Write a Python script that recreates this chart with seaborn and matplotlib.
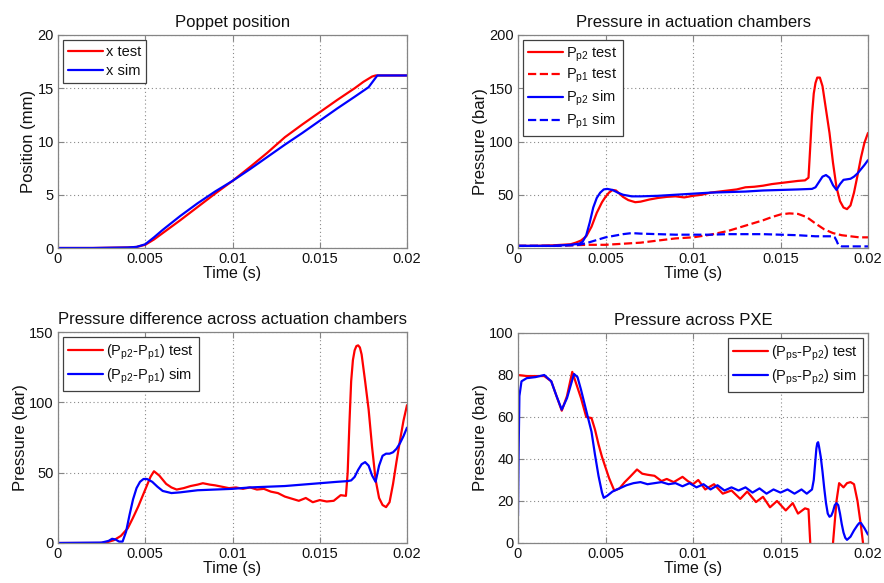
import matplotlib
matplotlib.use("Agg")
import matplotlib.pyplot as plt
import seaborn as sns

# ---------------- data ----------------
time_ticks = [0, 0.005, 0.01, 0.015, 0.02]
time_tick_labels = ["0", "0.005", "0.01", "0.015", "0.02"]

# Poppet position (mm)
t_x_test = [0, 0.002, 0.004, 0.0045, 0.005, 0.0055, 0.006, 0.007, 0.008, 0.009, 0.010,
            0.011, 0.012, 0.013, 0.014, 0.015, 0.016, 0.017, 0.0175, 0.018, 0.0182, 0.019, 0.02]
x_test = [0, 0, 0.05, 0.1, 0.3, 0.8, 1.4, 2.6, 3.85, 5.1, 6.3,
          7.6, 8.95, 10.4, 11.6, 12.75, 13.9, 15.0, 15.6, 16.1, 16.2, 16.2, 16.2]
t_x_sim = [0, 0.002, 0.004, 0.0045, 0.005, 0.0055, 0.006, 0.007, 0.008, 0.009, 0.010,
           0.011, 0.012, 0.013, 0.014, 0.015, 0.016, 0.017, 0.0178, 0.0183, 0.019, 0.02]
x_sim = [0, 0, 0.05, 0.1, 0.35, 1.0, 1.7, 3.0, 4.2, 5.3, 6.3,
         7.4, 8.55, 9.7, 10.8, 11.95, 13.1, 14.2, 15.1, 16.2, 16.2, 16.2]

# Pressure in actuation chambers (bar)
t_pp2_test = [0, 0.001, 0.002, 0.003, 0.0033, 0.0036, 0.0039, 0.0042, 0.0045, 0.0048, 0.005,
              0.0052, 0.0054, 0.0056, 0.0058, 0.006, 0.0063, 0.0067, 0.007, 0.0075, 0.008,
              0.0085, 0.009, 0.0095, 0.01, 0.0105, 0.011, 0.0115, 0.012, 0.0125, 0.013,
              0.0135, 0.014, 0.0145, 0.015, 0.0155, 0.016, 0.0164, 0.0166, 0.0167, 0.0168,
              0.0169, 0.017, 0.0171, 0.01725, 0.0174, 0.0176, 0.0178, 0.018, 0.0182, 0.0184,
              0.0186, 0.0188, 0.019, 0.0192, 0.0194, 0.0196, 0.0198, 0.02]
pp2_test = [2, 2, 2.5, 3.5, 5, 7, 11, 20, 33, 43, 48,
            52, 54.5, 54, 51, 48, 45, 43, 43.5, 45.5, 47,
            48, 48.5, 47.5, 49, 50, 52, 53, 54, 55, 57,
            57.5, 58.5, 60, 61, 62, 63, 63.5, 66, 95, 125,
            145, 155, 160, 160, 152, 130, 108, 80, 57, 44,
            38, 36.5, 40, 52, 68, 85, 99, 108]
t_pp1_test = [0, 0.002, 0.003, 0.004, 0.005, 0.006, 0.007, 0.008, 0.009, 0.01, 0.011, 0.012,
              0.013, 0.014, 0.0145, 0.015, 0.0155, 0.016, 0.0165, 0.017, 0.0175, 0.018,
              0.0185, 0.019, 0.0195, 0.02]
pp1_test = [2, 2, 2.5, 3, 3, 4, 5, 7, 9, 10, 12.5, 16,
            21, 26, 29, 31.5, 32.5, 32, 29, 23, 17.5, 14,
            12, 11, 10, 10]
t_pp2_sim = [0, 0.001, 0.002, 0.003, 0.0035, 0.0037, 0.0039, 0.0041, 0.0043, 0.0045, 0.0047,
             0.0049, 0.0051, 0.0054, 0.0057, 0.006, 0.0065, 0.007, 0.008, 0.009, 0.01, 0.011,
             0.012, 0.013, 0.014, 0.015, 0.016, 0.0168, 0.017, 0.0172, 0.0174, 0.0176, 0.0178,
             0.018, 0.0182, 0.0184, 0.0186, 0.0188, 0.019, 0.0192, 0.0194, 0.0196, 0.0198, 0.02]
pp2_sim = [2, 2, 2, 3, 4, 6, 12, 24, 38, 47, 52,
           55, 55.5, 54.5, 52, 50, 48.5, 48.5, 49, 50, 51, 52,
           52.5, 53, 54, 54.5, 55, 55.5, 57, 62, 67, 68.5, 66,
           59, 54.5, 60, 64, 64.5, 65, 67, 70, 74, 78, 82.5]
t_pp1_sim = [0, 0.002, 0.003, 0.0035, 0.004, 0.0045, 0.005, 0.0055, 0.006, 0.0065, 0.007,
             0.008, 0.009, 0.01, 0.011, 0.012, 0.013, 0.014, 0.015, 0.016, 0.017, 0.0175,
             0.018, 0.0181, 0.0182, 0.0183, 0.0185, 0.019, 0.02]
pp1_sim = [2, 2, 2.5, 3, 5, 7.5, 10, 11.5, 13, 14, 13.5,
           13, 12.5, 12.5, 12.5, 13, 13, 13, 12.5, 12, 11, 11,
           11, 10, 7, 3, 1.5, 1.5, 1.5]

# Pressure difference across actuation chambers (bar)
t_dp_test = [0, 0.0024, 0.0028, 0.0032, 0.0036, 0.004, 0.0043, 0.0046, 0.005, 0.0053, 0.0055,
             0.0058, 0.0062, 0.0065, 0.0068, 0.0072, 0.0076, 0.008, 0.0083, 0.0087, 0.009,
             0.0094, 0.0098, 0.0102, 0.0106, 0.011, 0.0114, 0.0118, 0.0122, 0.0126, 0.013,
             0.0134, 0.0138, 0.0142, 0.0146, 0.015, 0.0154, 0.0158, 0.0162, 0.0165, 0.0166,
             0.0167, 0.0168, 0.0169, 0.017, 0.0171, 0.0172, 0.0173, 0.0174, 0.0176, 0.0178,
             0.018, 0.0182, 0.0184, 0.0186, 0.0188, 0.019, 0.0192, 0.0194, 0.0196, 0.0198, 0.02]
dp_test = [0, 0, 0.5, 2, 5, 10.5, 18, 26, 38, 47, 51,
           48, 42, 39.5, 38, 39, 40.5, 41.5, 42.5, 41.5, 41,
           40, 39, 39.5, 38.5, 39.5, 38, 38.5, 36.5, 35.5, 33,
           31.5, 30, 32, 29, 30.5, 29.5, 30, 34, 33.5, 50,
           85, 115, 130, 137, 140, 140.5, 139, 134, 115, 95,
           68, 45, 32, 27, 25.5, 29, 42, 58, 73, 87, 98]
t_dp_sim = [0, 0.0025, 0.0029, 0.0031, 0.0033, 0.0035, 0.0037, 0.0039, 0.0041, 0.0043, 0.0045,
            0.0047, 0.0049, 0.0051, 0.0054, 0.0057, 0.006, 0.0065, 0.007, 0.008, 0.009, 0.01,
            0.011, 0.012, 0.013, 0.014, 0.015, 0.016, 0.0166, 0.0168, 0.017, 0.0172, 0.0174,
            0.0176, 0.0178, 0.018, 0.0182, 0.0184, 0.0186, 0.0188, 0.019, 0.0192, 0.0194,
            0.0196, 0.0198, 0.02]
dp_sim = [0, 0.3, 1.5, 3, 2.5, 1, 1, 8, 20, 31, 39,
          43.5, 45.5, 45.5, 43.5, 40, 37, 35.5, 36, 37.5, 38, 38.5,
          39.5, 40, 40.5, 41.5, 42.5, 43.5, 44, 44.5, 47, 52, 56,
          57.5, 55, 48, 43.5, 55, 62, 63.5, 63.5, 64.5, 67,
          71, 76, 82]

# Pressure across PXE (bar)
t_pxe_test = [0, 0.0005, 0.001, 0.0015, 0.0019, 0.0022, 0.0025, 0.0028, 0.0031, 0.0034, 0.0036,
              0.0039, 0.0042, 0.0044, 0.0046, 0.0048, 0.005, 0.0052, 0.0055, 0.0058, 0.0061,
              0.0064, 0.0068, 0.0071, 0.0074, 0.0078, 0.0082, 0.0085, 0.0089, 0.0094, 0.0097,
              0.01, 0.0103, 0.0107, 0.0112, 0.0117, 0.0122, 0.0127, 0.0131, 0.0136, 0.014,
              0.0144, 0.0148, 0.0153, 0.0157, 0.016, 0.0164, 0.0166, 0.0167, 0.0169, 0.0178,
              0.018, 0.0182, 0.01835, 0.0186, 0.0188, 0.019, 0.0192, 0.0194, 0.0196, 0.0198]
pxe_test = [80, 79.5, 79.5, 79.5, 77, 70, 63, 70, 81.5, 74, 69,
            60, 59.5, 54, 47, 41, 36, 31, 25, 26, 29,
            31.5, 35, 33, 32.5, 32, 29.5, 30.5, 29, 31.5, 29.5,
            28, 30, 25.5, 28, 23.5, 25, 21, 24.5, 19.5, 22,
            17, 20, 15.5, 19, 14, 16.5, 16, 0, -25, -25,
            0, 20, 28.5, 26.5, 28.5, 29, 28, 20, 8, -6]
t_pxe_sim = [0, 0.00003, 0.00008, 0.0002, 0.0005, 0.001, 0.0015, 0.0019, 0.0022, 0.0025, 0.0028,
             0.0032, 0.0034, 0.0036, 0.0039, 0.0042, 0.0044, 0.0046, 0.0048, 0.0049, 0.0051,
             0.0054, 0.0058, 0.0062, 0.0066, 0.007, 0.0074, 0.0078, 0.0082, 0.0086, 0.009,
             0.0094, 0.0098, 0.0102, 0.0106, 0.011, 0.0114, 0.0118, 0.0122, 0.0126, 0.013,
             0.0134, 0.0138, 0.0142, 0.0146, 0.015, 0.0154, 0.0158, 0.0162, 0.0165, 0.0168,
             0.0169, 0.017, 0.01705, 0.0171, 0.01715, 0.0172, 0.0173, 0.0174, 0.0175, 0.0176,
             0.0177, 0.0178, 0.0179, 0.018, 0.0181, 0.0182, 0.0183, 0.0184, 0.0185, 0.0186,
             0.0187, 0.0188, 0.019, 0.0192, 0.0194, 0.0195, 0.0196, 0.0198, 0.02]
pxe_sim = [13, 40, 70, 77, 78.5, 79, 80, 77, 70, 63.5, 69,
           80.5, 79, 73, 63, 53, 42, 32, 24, 21.5, 22.5,
           24.5, 26, 27.5, 28.5, 29, 28, 28.5, 29, 28, 28.5,
           27, 28.5, 26.5, 28, 25.5, 27.5, 25, 26.5, 25, 26.5,
           24, 26, 23.5, 25.5, 24, 25.5, 23.5, 25.5, 23.5, 25.5,
           30, 40, 45, 47.5, 48, 46, 41, 34, 26, 19,
           14, 12.5, 13, 15, 18, 19, 18, 14, 9, 5,
           2.5, 1.5, 3, 6, 8.5, 9.5, 9.5, 7, 4]

# ---------------- style ----------------
sns.set_theme(style="ticks")
plt.rcParams["font.family"] = ["Liberation Sans", "DejaVu Sans"]
plt.rcParams["mathtext.default"] = "regular"
plt.rcParams["xtick.direction"] = "in"
plt.rcParams["ytick.direction"] = "in"

RED = "#ff0000"
BLUE = "#0000ff"
FRAME = "#858585"
TXT = "#111111"

fig = plt.figure(figsize=(8.84, 5.83), dpi=100)
W, H = 884, 583


def make_ax(l, r, t, b):
    return fig.add_axes([l / W, 1 - b / H, (r - l) / W, (b - t) / H])


axes = [make_ax(58, 407, 35, 248), make_ax(518, 868, 35, 248),
        make_ax(58, 407, 332, 543), make_ax(518, 868, 333, 543)]


def style(ax, title, ylabel, ymax, ystep):
    ax.set_xlim(0, 0.02)
    ax.set_ylim(0, ymax)
    ax.set_xticks(time_ticks)
    ax.set_xticklabels(time_tick_labels)
    ax.set_yticks(list(range(0, ymax + 1, ystep)))
    ax.tick_params(axis="both", which="both", labelsize=10.5, colors=FRAME,
                   labelcolor=TXT, length=4, width=0.8, top=True, right=True, pad=3)
    for s in ax.spines.values():
        s.set_color(FRAME)
        s.set_linewidth(0.9)
        s.set_visible(True)
    ax.grid(True, color="#8a8a8a", linestyle=(0, (1, 2.5)), linewidth=0.8)
    ax.set_axisbelow(True)
    ax.set_title(title, fontsize=12, color=TXT, pad=6)
    ax.set_xlabel("Time (s)", fontsize=11.5, color=TXT, labelpad=0)
    ax.set_ylabel(ylabel, fontsize=12, color=TXT, labelpad=1)


def line(ax, x, y, color, label, ls="-"):
    sns.lineplot(x=x, y=y, ax=ax, color=color, linestyle=ls, linewidth=1.6,
                 label=label, estimator=None, sort=False)


def legend(ax, loc, spacing=0.35):
    leg = ax.legend(loc=loc, fancybox=False, edgecolor="#404040", framealpha=1,
                    fontsize=10.5, handlelength=2.4, handletextpad=0.2,
                    borderaxespad=0.35, borderpad=0.35, labelspacing=spacing)
    leg.get_frame().set_linewidth(0.9)
    for t in leg.get_texts():
        t.set_color(TXT)


ax = axes[0]
line(ax, t_x_test, x_test, RED, "x test")
line(ax, t_x_sim, x_sim, BLUE, "x sim")
style(ax, "Poppet position", "Position (mm)", 20, 5)
legend(ax, "upper left")

ax = axes[1]
line(ax, t_pp2_test, pp2_test, RED, "P$_{p2}$ test")
line(ax, t_pp1_test, pp1_test, RED, "P$_{p1}$ test", "--")
line(ax, t_pp2_sim, pp2_sim, BLUE, "P$_{p2}$ sim")
line(ax, t_pp1_sim, pp1_sim, BLUE, "P$_{p1}$ sim", "--")
style(ax, "Pressure in actuation chambers", "Pressure (bar)", 200, 50)
legend(ax, "upper left", spacing=0.25)

ax = axes[2]
line(ax, t_dp_test, dp_test, RED, "(P$_{p2}$-P$_{p1}$) test")
line(ax, t_dp_sim, dp_sim, BLUE, "(P$_{p2}$-P$_{p1}$) sim")
style(ax, "Pressure difference across actuation chambers", "Pressure (bar)", 150, 50)
legend(ax, "upper left")

ax = axes[3]
line(ax, t_pxe_test, pxe_test, RED, "(P$_{ps}$-P$_{p2}$) test")
line(ax, t_pxe_sim, pxe_sim, BLUE, "(P$_{ps}$-P$_{p2}$) sim")
style(ax, "Pressure across PXE", "Pressure (bar)", 100, 20)
legend(ax, "upper right")

fig.savefig("out.png", dpi=100, facecolor="white")
